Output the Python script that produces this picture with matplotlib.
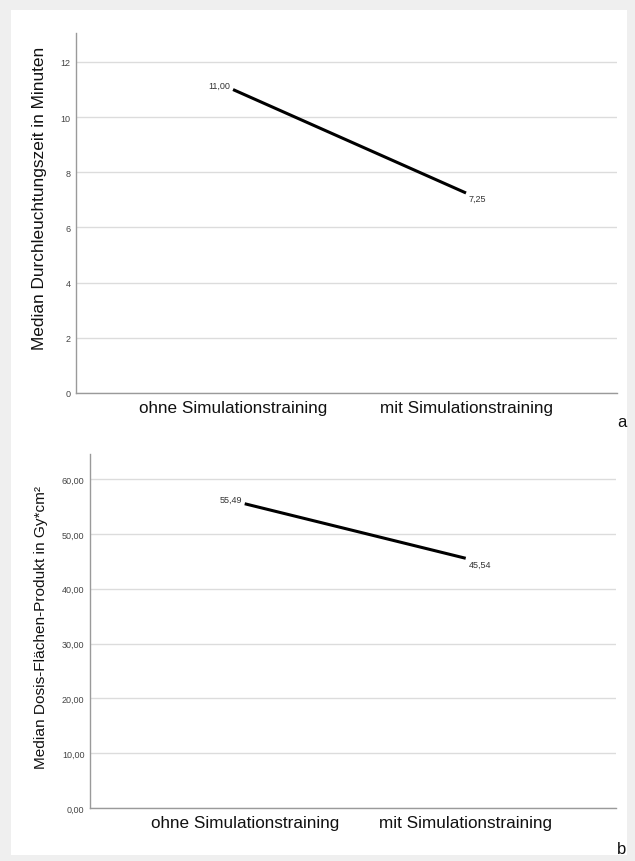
import matplotlib.pyplot as plt
from matplotlib.patches import Rectangle

plt.rcParams['font.family'] = ['Liberation Sans', 'DejaVu Sans']

groups = ["ohne Simulationstraining", "mit Simulationstraining"]
zeit = [11.00, 7.25]
zeit_labels = ["11,00", "7,25"]
dfp = [55.49, 45.54]
dfp_labels = ["55,49", "45,54"]
zeit_ticks = [0, 2, 4, 6, 8, 10, 12]
dfp_ticks = [0, 10, 20, 30, 40, 50, 60]
dfp_ticklabels = ["0,00", "10,00", "20,00", "30,00", "40,00", "50,00", "60,00"]

fig = plt.figure(figsize=(6.35, 8.62), dpi=100, facecolor="#efefef")
fig.patches.append(Rectangle((11 / 635, 1 - 856 / 862), 616 / 635, 845 / 862,
                             transform=fig.transFigure, facecolor="white",
                             edgecolor="none", zorder=-10))


def panel(rect, values, labels, ticks, ticklabels, ylim, xlim, ylabel, ylabel_xy,
          ylabel_size, letter, letter_y):
    ax = fig.add_axes(rect)
    ax.set_facecolor("white")
    x = range(len(values))
    ax.plot(x, values, color="black", lw=2.2, solid_capstyle="butt", zorder=3)
    ax.annotate(labels[0], (0, values[0]), xytext=(-2, 3), textcoords="offset points",
                ha="right", va="center", fontsize=6.5, color="#333333")
    ax.annotate(labels[1], (1, values[1]), xytext=(2, -4), textcoords="offset points",
                ha="left", va="center", fontsize=6.5, color="#333333")
    ax.set_xlim(*xlim)
    ax.set_ylim(*ylim)
    ax.set_xticks(list(x))
    ax.set_xticklabels(groups, fontsize=12.3, color="#111111")
    ax.set_yticks(ticks)
    ax.set_yticklabels(ticklabels, fontsize=6.5, color="#444444")
    ax.tick_params(axis="both", length=0)
    ax.tick_params(axis="x", pad=5)
    ax.tick_params(axis="y", pad=4)
    ax.grid(axis="y", color="#dcdcdc", lw=1.0)
    ax.set_axisbelow(True)
    for s in ["top", "right"]:
        ax.spines[s].set_visible(False)
    for s in ["left", "bottom"]:
        ax.spines[s].set_color("#9a9a9a")
        ax.spines[s].set_linewidth(1.0)
    ax.set_ylabel(ylabel, fontsize=ylabel_size, color="#111111")
    ax.yaxis.set_label_coords(*ylabel_xy)
    fig.text(622 / 635, letter_y, letter, fontsize=12, ha="center", va="center", color="#111111")
    return ax


panel([76 / 635, 1 - 394 / 862, 541 / 635, 360 / 862], zeit, zeit_labels,
      zeit_ticks, [str(t) for t in zeit_ticks], (0, 13.05), (-0.674, 1.648),
      "Median Durchleuchtungszeit in Minuten", (-0.0536, 0.544), 12.4, "a", 1 - 423 / 862)

panel([90 / 635, 1 - 809 / 862, 526 / 635, 354 / 862], dfp, dfp_labels,
      dfp_ticks, dfp_ticklabels, (0, 64.56), (-0.70, 1.68),
      "Median Dosis-Flächen-Produkt in Gy*cm²", (-0.080, 0.514), 11.1, "b", 1 - 850 / 862)

fig.savefig("out.png", dpi=100, facecolor=fig.get_facecolor())
